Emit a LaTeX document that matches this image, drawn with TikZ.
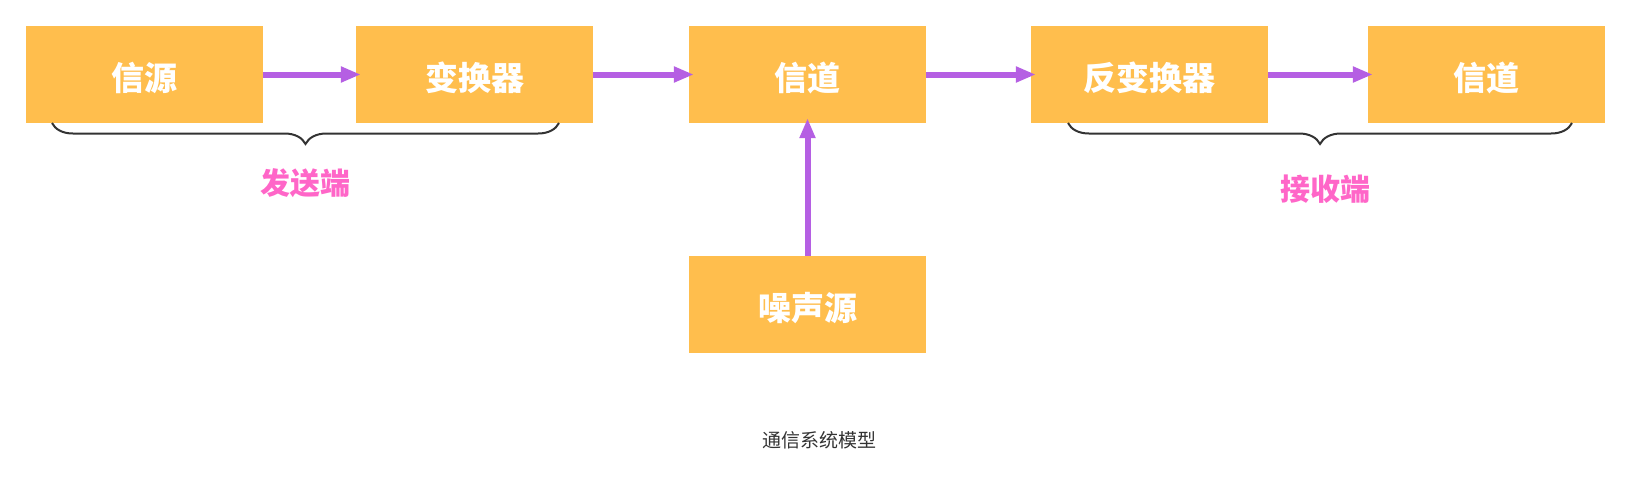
\documentclass[tikz,border=0pt]{standalone}
\usepackage{fontspec}
\newfontfamily\cjk{Noto Sans CJK SC}
\usepackage{tikz}
\usetikzlibrary{arrows.meta,calc,decorations.pathreplacing}
\definecolor{BoxOr}{HTML}{FFBE4D}
\definecolor{ArrPu}{HTML}{B55FE3}
\definecolor{TxtPk}{HTML}{FF66C8}
\definecolor{BrGr}{HTML}{333333}
\tikzset{
  blk/.style={fill=BoxOr, draw=none, minimum width=237pt, minimum height=97pt,
    inner sep=0pt, text height=31pt, text depth=0pt, text=white,
    font=\cjk\bfseries\fontsize{33}{36}\selectfont},
  flow/.style={ArrPu, line width=6pt, -{Triangle[length=20pt,width=15pt]}, shorten >=-5pt},
  brc/.style={BrGr, line width=2pt, decorate,
    decoration={brace, mirror, amplitude=21pt, aspect=0.5}},
  side/.style={text=TxtPk, font=\cjk\bfseries\fontsize{30}{33}\selectfont},
}
\begin{document}
\begin{tikzpicture}[x=1pt,y=-1pt]
        \useasboundingbox (0,0) rectangle (1632,483);
        %Khối
        \node[blk] (src) at (144.5,74.5) {信源};
        \node[blk] (conv) at (474.5,74.5) {变换器};
        \node[blk] (chan) at (807.5,74.5) {信道};
        \node[blk] (iconv) at (1149.5,74.5) {反变换器};
        \node[blk] (sink) at (1486.5,74.5) {信道};
        \node[blk] (noise) at (807.5,304.5) {噪声源};
        %Mũi tên
        \draw[flow] (src.east) -- (conv.west);
        \draw[flow] (conv.east) -- (chan.west);
        \draw[flow] (chan.east) -- (iconv.west);
        \draw[flow] (iconv.east) -- (sink.west);
        \draw[flow] (noise.north) -- (chan.south);
        %Ngoặc
        \coordinate (sendL) at (52,123);
        \coordinate (sendR) at (559,123);
        \coordinate (recvL) at (1068,123);
        \coordinate (recvR) at (1572,123);
        \draw[brc] (sendL) -- (sendR);
        \draw[brc] (recvL) -- (recvR);
        \node[side] (send) at (305,183) {发送端};
        \node[side] (recv) at (1325,189) {接收端};
        %Chú thích
        \node[text=BrGr, font=\cjk\fontsize{19}{22}\selectfont] (cap) at (819,440) {通信系统模型};
\end{tikzpicture}
\end{document}
